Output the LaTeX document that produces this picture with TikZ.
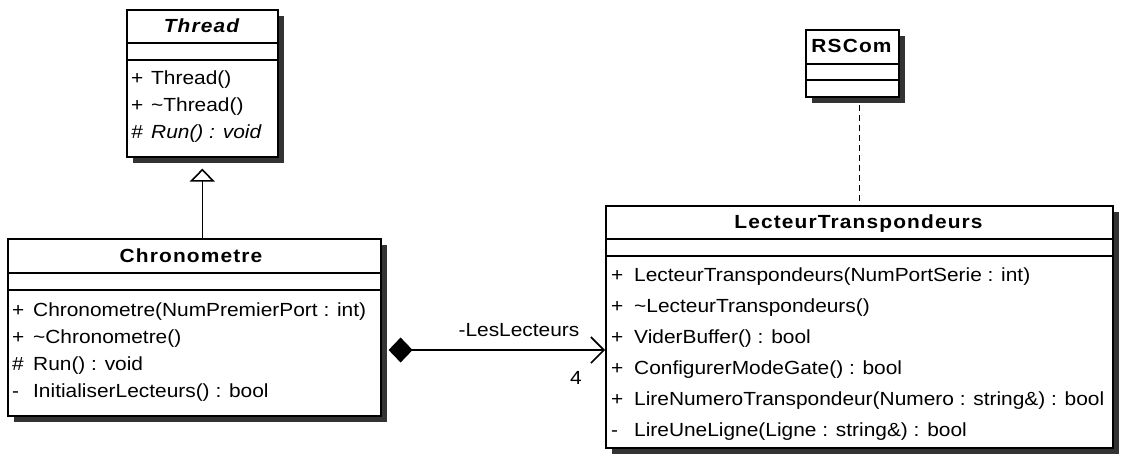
\documentclass[tikz,border=0pt]{standalone}
\usepackage{fontspec}
\setmainfont{Liberation Sans}[FakeStretch=1.1]
\newfontfamily\titlefont{Liberation Sans}[FakeStretch=1.1,LetterSpace=6]
\usetikzlibrary{arrows.meta,shadows}

\begin{document}
\begin{tikzpicture}[x=1pt,y=-1pt,
    classbox/.style={draw,line width=1.6pt,fill=white,anchor=north west,inner sep=0pt,
        drop shadow={shadow xshift=6pt,shadow yshift=-6pt,opacity=1,fill=black!80}},
    classname/.style={inner sep=0pt,text height=13.6pt,text depth=0pt,
        font=\titlefont\bfseries\fontsize{19}{21}\selectfont},
    member/.style={anchor=west,inner sep=0pt,text height=13.6pt,text depth=0pt,
        font=\fontsize{19}{21}\selectfont},
    sepline/.style={line width=1.6pt}]
                      \useasboundingbox (0,0) rectangle (1122,453);
                      \node[classbox,minimum width=151pt,minimum height=147pt] (thread) at (126,9) {};
                      \node[classbox,minimum width=373pt,minimum height=177pt] (chrono) at (7,238) {};
                      \node[classbox,minimum width=93pt,minimum height=67pt] (rscom) at (805,29) {};
                      \node[classbox,minimum width=507pt,minimum height=242pt] (lt) at (605,205) {};
                      \draw[sepline] (126,43) -- (277,43) (126,60) -- (277,60);
                      \draw[sepline] (7,273) -- (380,273) (7,290) -- (380,290);
                      \draw[sepline] (805,64) -- (898,64) (805,80) -- (898,80);
                      \draw[sepline] (605,239) -- (1112,239) (605,256) -- (1112,256);
                      \node[classname] (thread-name) at (201.5,26) {\itshape Thread};
                      \node[classname] (chrono-name) at (191,256) {Chronometre};
                      \node[classname] (rscom-name) at (851.5,46) {RSCom};
                      \node[classname] (lt-name) at (858.5,222) {LecteurTranspondeurs};
                      \node[member] (thread-op1) at (131,78) {\makebox[20pt][l]{+}Thread()};
                      \node[member] (thread-op2) at (131,105) {\makebox[20pt][l]{+}\textasciitilde Thread()};
                      \node[member] (thread-op3) at (131,132) {\itshape\makebox[20pt][l]{\#}Run() : void};
                      \node[member] (chrono-op1) at (12,310) {\makebox[21pt][l]{+}Chronometre(NumPremierPort : int)};
                      \node[member] (chrono-op2) at (12,337) {\makebox[21pt][l]{+}\textasciitilde Chronometre()};
                      \node[member] (chrono-op3) at (12,364) {\makebox[21pt][l]{\#}Run() : void};
                      \node[member] (chrono-op4) at (12,391) {\makebox[21pt][l]{-}InitialiserLecteurs() : bool};
                      \node[member] (lt-op1) at (611,275) {\makebox[23pt][l]{+}LecteurTranspondeurs(NumPortSerie : int)};
                      \node[member] (lt-op2) at (611,306) {\makebox[23pt][l]{+}\textasciitilde LecteurTranspondeurs()};
                      \node[member] (lt-op3) at (611,337) {\makebox[23pt][l]{+}ViderBuffer() : bool};
                      \node[member] (lt-op4) at (611,368) {\makebox[23pt][l]{+}ConfigurerModeGate() : bool};
                      \node[member] (lt-op5) at (611,399) {\makebox[23pt][l]{+}LireNumeroTranspondeur(Numero : string\&) : bool};
                      \node[member] (lt-op6) at (611,430) {\makebox[23pt][l]{-}LireUneLigne(Ligne : string\&) : bool};
                      \coordinate (assoc) at (490,350);
                      \draw[line width=1.6pt,{Diamond[length=24pt,width=25pt]}-{Straight Barb[length=13pt,width=26pt]},shorten <=7pt]
                          (chrono.east |- assoc) -- (lt.west |- assoc);
                      \node[member,anchor=center] (role) at (519,330) {-LesLecteurs};
                      \node[member,anchor=center] (mult) at (576,378) {4};
                      \draw[line width=1.6pt,-{Triangle[open,length=13pt,width=25pt]},shorten >=11pt]
                          (thread.south |- chrono.north) -- (thread.south);
                      \draw[line width=1.3pt,dash pattern=on 6pt off 4pt,shorten <=7pt]
                          (rscom.south -| lt.north) -- (lt.north);
                  \end{tikzpicture}
\end{document}
